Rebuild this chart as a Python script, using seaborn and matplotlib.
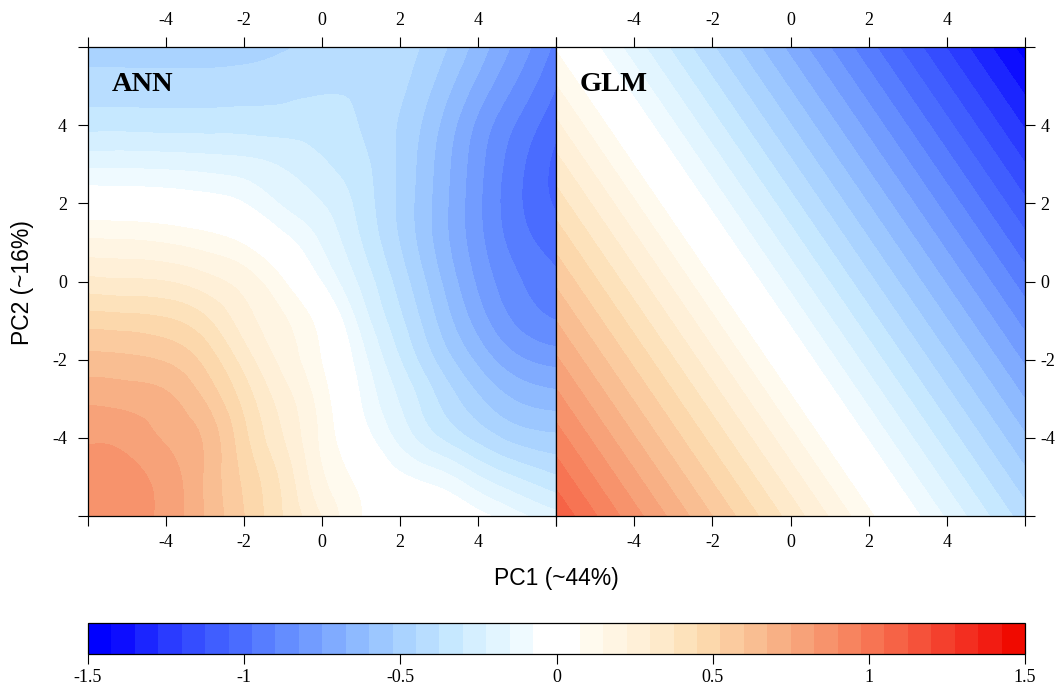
import numpy as np
import pandas as pd
import matplotlib
matplotlib.use("Agg")
import matplotlib.pyplot as plt
import matplotlib.tri as mtri
from matplotlib.colors import ListedColormap, BoundaryNorm
from matplotlib.cm import ScalarMappable
import seaborn as sns

# ---------------- data ----------------
pc1 = [-6, -5, -4, -3, -2, -1, 0, 1, 2, 3, 4, 5, 6]
pc2_top_to_bottom = [6, 5, 4, 3, 2, 1, 0, -1, -2, -3, -4, -5, -6]

ann_y6 = [-0.48, -0.485, -0.49, -0.49, -0.48, -0.46, -0.42, -0.40, -0.42, -0.50, -0.635, -0.775, -0.92]
ann_y5 = [-0.42, -0.42, -0.42, -0.42, -0.415, -0.40, -0.385, -0.385, -0.435, -0.55, -0.70, -0.84, -0.975]
ann_y4 = [-0.325, -0.325, -0.33, -0.33, -0.33, -0.335, -0.34, -0.38, -0.46, -0.60, -0.77, -0.91, -1.03]
ann_y3 = [-0.17, -0.17, -0.175, -0.185, -0.20, -0.235, -0.29, -0.355, -0.465, -0.625, -0.80, -0.95, -1.07]
ann_y2 = [0.0, -0.005, -0.015, -0.035, -0.075, -0.16, -0.225, -0.33, -0.47, -0.635, -0.81, -0.96, -1.06]
ann_y1 = [0.165, 0.16, 0.145, 0.115, 0.065, -0.04, -0.16, -0.30, -0.455, -0.63, -0.80, -0.935, -1.01]
ann_y0 = [0.32, 0.31, 0.30, 0.255, 0.19, 0.08, -0.08, -0.245, -0.41, -0.59, -0.765, -0.89, -0.96]
ann_ym1 = [0.49, 0.48, 0.46, 0.39, 0.26, 0.16, 0.03, -0.18, -0.36, -0.54, -0.71, -0.84, -0.90]
ann_ym2 = [0.623, 0.615, 0.59, 0.50, 0.34, 0.20, 0.07, -0.12, -0.30, -0.47, -0.62, -0.735, -0.78]
ann_ym3 = [0.733, 0.72, 0.69, 0.59, 0.42, 0.26, 0.11, -0.08, -0.235, -0.385, -0.515, -0.61, -0.645]
ann_ym4 = [0.814, 0.80, 0.74, 0.66, 0.47, 0.30, 0.13, -0.03, -0.175, -0.30, -0.40, -0.48, -0.51]
ann_ym5 = [0.86, 0.845, 0.79, 0.665, 0.505, 0.35, 0.16, 0.045, -0.06, -0.12, -0.22, -0.305, -0.37]
ann_ym6 = [0.89, 0.855, 0.80, 0.67, 0.525, 0.37, 0.22, 0.075, 0.03, 0.0, -0.05, -0.13, -0.20]

# GLM is a plane: values at the four panel corners
glm_pc1 = [-6, 6]
glm_pc2 = [-6, 6]
glm_bottom = [1.107, -0.417]   # pc2 = -6
glm_top = [0.065, -1.459]      # pc2 = 6

levels = np.linspace(-1.5, 1.5, 41)
cbar_ticks = [-1.5, -1, -0.5, 0, 0.5, 1, 1.5]
cbar_labels = ["-1.5", "-1", "-0.5", "0", "0.5", "1", "1.5"]
axis_ticks = [-6, -4, -2, 0, 2, 4, 6]
axis_labels = ["", "-4", "-2", "0", "2", "4", ""]

band_colors = [
    "#0000ff", "#0d0dff", "#1b25ff", "#2a3bff", "#354dff", "#405eff", "#4a6cff",
    "#577dff", "#648dff", "#729cff", "#80abff", "#8ebaff", "#9cc7ff", "#aad3ff",
    "#b8ddff", "#c6e8ff", "#d5efff", "#e2f5ff", "#effaff", "#ffffff",
    "#ffffff", "#fffaee", "#fff5e3", "#fff0d8", "#feeacb", "#fde2bb", "#fcd8ac",
    "#fbcb9f", "#f9be92", "#f8b085", "#f7a279", "#f7936c", "#f7845f", "#f77453",
    "#f66346", "#f5523a", "#f4402d", "#f32e20", "#f21c12", "#f00a00",
]

# ---------------- figure ----------------
sns.set_theme(style="white")
plt.rcParams["font.family"] = ["Liberation Serif", "DejaVu Serif"]
plt.rcParams["axes.unicode_minus"] = False

ann = pd.DataFrame([ann_y6, ann_y5, ann_y4, ann_y3, ann_y2, ann_y1, ann_y0,
                    ann_ym1, ann_ym2, ann_ym3, ann_ym4, ann_ym5, ann_ym6],
                   index=pc2_top_to_bottom, columns=pc1).sort_index()
glm = pd.DataFrame([glm_bottom, glm_top], index=glm_pc2, columns=glm_pc1)

W, H = 1059, 685
fig = plt.figure(figsize=(W / 100, H / 100), dpi=100)
fig.patch.set_facecolor("white")

def frac(x0, y0, x1, y1):
    return [x0 / W, 1 - y1 / H, (x1 - x0) / W, (y1 - y0) / H]

ax1 = fig.add_axes(frac(88, 47, 556, 516))
ax2 = fig.add_axes(frac(556, 47, 1025, 516))
cax = fig.add_axes(frac(88, 623, 1025, 654))

palette = sns.color_palette(band_colors)
cmap = ListedColormap(palette)
norm = BoundaryNorm(levels, cmap.N)
tick_fs = 13

for ax, df, title in [(ax1, ann, "ANN"), (ax2, glm, "GLM")]:
    X, Y = np.meshgrid(df.columns.values, df.index.values)
    if df.shape[0] > 2:
        tri = mtri.Triangulation(X.ravel().astype(float), Y.ravel().astype(float))
        interp = mtri.CubicTriInterpolator(tri, df.values.ravel(), kind="min_E")
        refiner = mtri.UniformTriRefiner(tri)
        tri_r, z_r = refiner.refine_field(df.values.ravel(), triinterpolator=interp,
                                          subdiv=4)
        cs = ax.tricontourf(tri_r, z_r, levels=levels, cmap=cmap, norm=norm,
                            extend="both")
    else:
        cs = ax.contourf(X, Y, df.values, levels=levels, cmap=cmap, norm=norm)
    cs.set_edgecolor("face")
    cs.set_linewidth(0.4)
    ax.set_xlim(-6, 6)
    ax.set_ylim(-6, 6)
    ax.set_xticks(axis_ticks)
    ax.set_xticklabels(axis_labels)
    ax.set_yticks(axis_ticks)
    ax.set_yticklabels(axis_labels)
    ax.minorticks_off()
    for sp in ax.spines.values():
        sp.set_visible(True)
        sp.set_color("black")
        sp.set_linewidth(0.9)
    ax.tick_params(axis="x", top=True, bottom=True, labeltop=True, labelbottom=True,
                   direction="out", length=7.2, width=0.8, color="black",
                   pad=6, labelsize=tick_fs, labelcolor="black")
    ax.text(0.051, 0.92, title, transform=ax.transAxes, fontsize=20.5,
            fontweight="bold", ha="left", va="center", color="black")

ax1.tick_params(axis="y", left=True, right=False, labelleft=True, labelright=False,
                direction="out", length=7.2, width=0.8, color="black",
                pad=8, labelsize=tick_fs, labelcolor="black")
ax2.tick_params(axis="y", left=False, right=True, labelleft=False, labelright=True,
                direction="out", length=7.2, width=0.8, color="black",
                pad=4, labelsize=tick_fs, labelcolor="black")

sm = ScalarMappable(norm=norm, cmap=cmap)
cb = fig.colorbar(sm, cax=cax, orientation="horizontal", ticks=cbar_ticks)
cb.ax.minorticks_off()
cb.ax.set_xticks(cbar_ticks)
cb.ax.set_xticklabels(cbar_labels)
cb.ax.tick_params(axis="x", direction="out", length=7, width=0.8, color="black",
                  labelsize=tick_fs, pad=4, labelcolor="black")
cb.outline.set_linewidth(0.9)
cb.outline.set_edgecolor("black")

fig.text(556 / W, 1 - 579 / H, "PC1 (~44%)", ha="center", va="center",
         fontsize=16.5, family=["Liberation Sans", "DejaVu Sans"], color="black")
fig.text(22 / W, 1 - 283 / H, "PC2 (~16%)", ha="center", va="center",
         rotation=90, fontsize=16.5, family=["Liberation Sans", "DejaVu Sans"],
         color="black")

fig.savefig("out.png", dpi=100, facecolor="white")
